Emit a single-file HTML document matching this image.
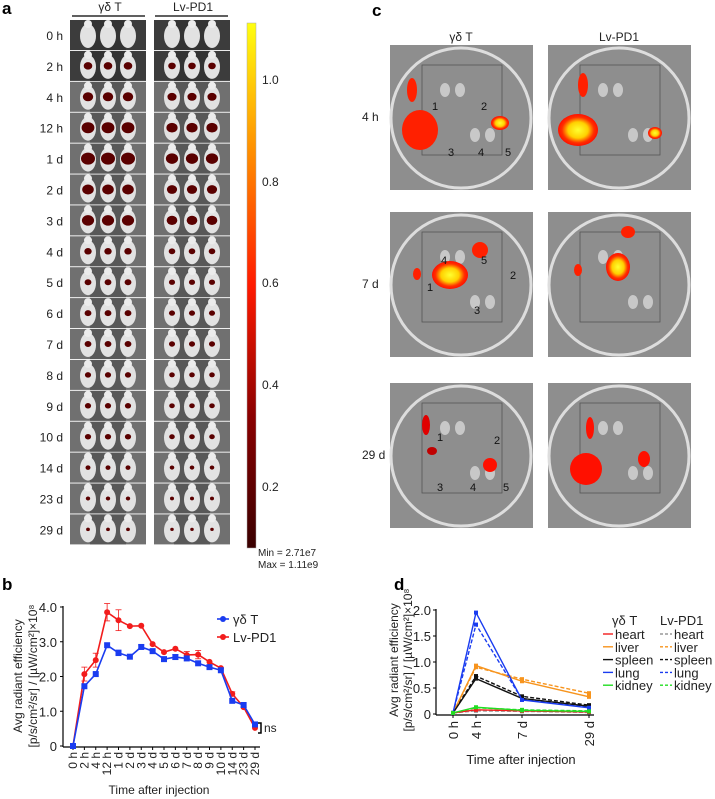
<!DOCTYPE html>
<html><head><meta charset="utf-8">
<style>
body{margin:0;background:#fff;width:715px;height:799px;overflow:hidden;font-family:"Liberation Sans",sans-serif}
svg{position:absolute;left:0;top:0}
text{font-family:"Liberation Sans",sans-serif;fill:#222}
</style></head>
<body>
<svg id="s" width="715" height="799" viewBox="0 0 715 799">
<defs>
<linearGradient id="cb" x1="0" y1="1" x2="0" y2="0">
<stop offset="0" stop-color="#3a0000"/><stop offset="0.25" stop-color="#8a0000"/><stop offset="0.5" stop-color="#ff1a00"/><stop offset="0.75" stop-color="#ff8c00"/><stop offset="1" stop-color="#ffff10"/>
</linearGradient>
<radialGradient id="hot"><stop offset="0" stop-color="#ffff30"/><stop offset="0.5" stop-color="#ffd000"/><stop offset="0.8" stop-color="#ff3000"/><stop offset="1" stop-color="#ff1000"/></radialGradient>
</defs>
<g id="pa"></g>
<g id="pc"></g>
<g id="pb"></g>
<g id="pd"></g>
</svg>
<script>
const NS="http://www.w3.org/2000/svg";
function el(p,t,a,txt){const e=document.createElementNS(NS,t);for(const k in a)e.setAttribute(k,a[k]);if(txt!==undefined)e.textContent=txt;p.appendChild(e);return e;}

// ---------- Panel b data ----------
const bCats=["0 h","2 h","4 h","12 h","1 d","2 d","3 d","4 d","5 d","6 d","7 d","8 d","9 d","10 d","14 d","23 d","29 d"];
const bGd=[0,1.72,2.07,2.9,2.68,2.57,2.85,2.73,2.5,2.56,2.52,2.38,2.27,2.18,1.3,1.18,0.62];
const bLv=[0,2.07,2.47,3.85,3.62,3.45,3.46,2.93,2.7,2.8,2.62,2.63,2.42,2.24,1.5,1.12,0.52];
const bLvErr=[0,0.2,0.2,0.25,0.3,0.04,0.04,0.04,0.04,0.04,0.1,0.12,0.05,0.04,0.06,0.04,0.04];
const bGdErr=[0,0.05,0.04,0.04,0.08,0.04,0.06,0.05,0.06,0.07,0.05,0.04,0.05,0.05,0.05,0.04,0.05];
const bTicks=[0,1,2,3,4];
const bTickLabels=["0","1.0","2.0","3.0","4.0"];

// ---------- Panel d data ----------
const dCats=["0 h","4 h","7 d","29 d"];
const dDays=[0,0.17,7,29];
const dGdHeart=[0.02,0.08,0.06,0.04];
const dGdLiver=[0.02,0.93,0.63,0.33];
const dGdSpleen=[0.02,0.68,0.30,0.15];
const dGdLung=[0.02,1.95,0.27,0.12];
const dGdKidney=[0.02,0.13,0.07,0.05];
const dLvHeart=[0.02,0.06,0.05,0.03];
const dLvLiver=[0.02,0.90,0.67,0.40];
const dLvSpleen=[0.02,0.73,0.34,0.17];
const dLvLung=[0.02,1.72,0.28,0.14];
const dLvKidney=[0.02,0.12,0.08,0.06];
const dTicks=[0,0.5,1,1.5,2];
const dTickLabels=["0","0.5","1.0","1.5","2.0"];

// ---------- Panel a ----------
const pa=document.getElementById('pa');
el(pa,'text',{x:2,y:14,'font-size':17,'font-weight':'bold',style:'fill:#000'},'a');
const aRows=["0 h","2 h","4 h","12 h","1 d","2 d","3 d","4 d","5 d","6 d","7 d","8 d","9 d","10 d","14 d","23 d","29 d"];
const aBlob=[0,0.55,0.7,0.9,1,0.8,0.85,0.45,0.4,0.4,0.4,0.35,0.35,0.35,0.25,0.2,0.15];
[[72,"γδ T"],[155,"Lv-PD1"]].forEach(([x,l],ci)=>{
  el(pa,'text',{x:x+38,y:11,'font-size':12,'text-anchor':'middle'},l);
  el(pa,'line',{x1:x,x2:x+73,y1:16,y2:16,stroke:'#000','stroke-width':1.3});
});
aRows.forEach((r,i)=>{
  const y=20+i*30.9;
  const lt=el(pa,'text',{x:63,y:y+20,'font-size':12,'text-anchor':'end'},r);
  
  
  [70,154].forEach((x,ci)=>{
    const g=el(pa,'g',{});
    
    
    el(g,'rect',{x:x,y:y,width:76,height:30,fill: i<2?'#3c3c3c':'#707070'});
    el(g,'rect',{x:x+20,y:y,width:36,height:30,fill: i<2?'#333':'#585858'});
    for(let m=0;m<3;m++){
      const cx=x+18+m*20;
      el(g,'ellipse',{cx:cx,cy:y+16,rx:8,ry:12,fill:'#e2e2e2'});
      el(g,'circle',{cx:cx,cy:y+4,r:4,fill:'#ececec'});
      const s=aBlob[i]*(ci==0?1:0.85);
      if(s>0) el(g,'ellipse',{cx:cx,cy:y+15,rx:6*s+1,ry:5*s+1,fill:'#5a0000'});
    }
  });
});
el(pa,'rect',{x:247,y:23,width:9,height:525,fill:'url(#cb)',stroke:'#aaa','stroke-width':0.5});
[[1.0,80],[0.8,182],[0.6,283],[0.4,385],[0.2,487]].forEach(([v,y])=>{
  el(pa,'text',{x:262,y:y+4,'font-size':12},v.toFixed(1));
});
el(pa,'text',{x:258,y:556,'font-size':10},"Min = 2.71e7");
el(pa,'text',{x:258,y:568,'font-size':10},"Max = 1.11e9");

// ---------- Panel c ----------
const pc=document.getElementById('pc');
el(pc,'text',{x:372,y:16,'font-size':17,'font-weight':'bold',style:'fill:#000'},'c');
el(pc,'text',{x:461,y:41,'font-size':12,'text-anchor':'middle'},'γδ T');
el(pc,'text',{x:619,y:41,'font-size':12,'text-anchor':'middle'},'Lv-PD1');
const cRows=[["4 h",45],["7 d",212],["29 d",383]];
const cBlobs=[
 [[[22,45,5,12,'#ff2000'],[30,85,18,20,'#ff2000'],[110,78,9,7,'url(#hot)']],[[35,40,5,12,'#ff2000'],[30,85,20,16,'url(#hot)'],[107,88,7,6,'url(#hot)']]],
 [[[27,12,4,6,'#ff2000'],[60,13,18,14,'url(#hot)'],[90,-12,8,8,'#ff2000']],[[30,8,4,6,'#ff2000'],[70,5,12,14,'url(#hot)'],[80,-30,7,6,'#ff2000']]],
 [[[36,42,4,10,'#e00000'],[42,68,5,4,'#c00000'],[100,82,7,7,'#ff1000']],[[42,45,4,11,'#ff1000'],[38,86,16,16,'#ff1000'],[96,76,6,8,'#ff1000']]]
];
cRows.forEach(([l,y],ri)=>{
  el(pc,'text',{x:362,y:y+76,'font-size':12},l);
  [390,548].forEach((x,ci)=>{
    const g=el(pc,'g',{});
    
    
    el(g,'rect',{x:x,y:y,width:143,height:145,fill:'#8e8e8e'});
    el(g,'rect',{x:x+32,y:y+20,width:80,height:90,fill:'none',stroke:'#555','stroke-width':0.8});
    el(g,'circle',{cx:x+71,cy:y+73,r:70,fill:'none',stroke:'#ddd','stroke-width':3});
    for(let k=0;k<4;k++) el(g,'ellipse',{cx:x+55+k*15,cy:y+(k<2?45:90),rx:5,ry:7,fill:'#c8c8c8'});
    cBlobs[ri][ci].forEach(b=>el(g,'ellipse',{cx:x+b[0],cy:y+(ri==1?b[1]+50:b[1]),rx:b[2],ry:b[3],fill:b[4]}));
  });
});
const cNums=[[[1,432,110],[2,481,110],[3,448,156],[4,478,156],[5,505,156]],
 [[1,427,291],[2,510,279],[3,474,314],[4,441,264],[5,481,264]],
 [[1,437,441],[2,494,444],[3,437,491],[4,470,491],[5,503,491]]];
cNums.forEach(r=>r.forEach(([n,x,y])=>el(pc,'text',{x:x,y:y,'font-size':11,style:'fill:#111'},n)));
</script>
<script>
// ---------- Panel b chart ----------
(function(){
const g=document.getElementById('pb');
el(g,'text',{x:2,y:590,'font-size':17,'font-weight':'bold',style:'fill:#000'},'b');
const X0=73,X1=255,Y0=746,Y4=607;
const xs=i=>X0+i*(X1-X0)/(bCats.length-1);
const ys=v=>Y0-(Y0-Y4)*v/4;
el(g,'line',{x1:63,x2:63,y1:606,y2:747,stroke:'#000','stroke-width':1.2});
el(g,'line',{x1:63,x2:260,y1:747,y2:747,stroke:'#000','stroke-width':1.2});
bTicks.forEach((t,i)=>{
  el(g,'line',{x1:60,x2:63,y1:ys(t),y2:ys(t),stroke:'#000'});
  el(g,'text',{x:57,y:ys(t)+5,'font-size':13,'text-anchor':'end'},bTickLabels[i]);
});
bCats.forEach((c,i)=>{
  el(g,'line',{x1:xs(i),x2:xs(i),y1:747,y2:750,stroke:'#000'});
  el(g,'text',{x:xs(i)+4,y:752,'font-size':12,'text-anchor':'end',transform:`rotate(-90 ${xs(i)+4} 752)`},c);
});
el(g,'text',{x:159,y:794,'font-size':12,'text-anchor':'middle'},'Time after injection');
el(g,'text',{x:22,y:676,'font-size':12,'text-anchor':'middle',transform:'rotate(-90 22 676)'},'Avg radiant efficiency');
el(g,'text',{x:37,y:676,'font-size':12,'text-anchor':'middle',transform:'rotate(-90 37 676)'},'[p/s/cm²/sr] / [µW/cm²]×10⁸');
function series(vals,err,col,name,mk){
  const sg=el(g,'g',{});
  
  
  el(sg,'polyline',{points:vals.map((v,i)=>xs(i)+','+ys(v)).join(' '),fill:'none',stroke:col,'stroke-width':1.6});
  vals.forEach((v,i)=>{
    if(err[i]>0.05){el(sg,'line',{x1:xs(i),x2:xs(i),y1:ys(v-err[i]),y2:ys(v+err[i]),stroke:col,'stroke-width':0.8});
      [v-err[i],v+err[i]].forEach(e=>el(sg,'line',{x1:xs(i)-3,x2:xs(i)+3,y1:ys(e),y2:ys(e),stroke:col,'stroke-width':0.8}));}
    if(mk=='s') el(sg,'rect',{x:xs(i)-3,y:ys(v)-3,width:6,height:6,fill:col});
    else el(sg,'circle',{cx:xs(i),cy:ys(v),r:3,fill:col});
  });
}
series(bLv,bLvErr,'#f21c1c','series-lv-pd1','c');
series(bGd,bGdErr,'#1a3cf0','series-gd-t','s');
const lg=[["γδ T",'#1a3cf0',619],["Lv-PD1",'#f21c1c',637]];
lg.forEach(([l,c,y])=>{
  const e=el(g,'g',{});
  
  
  el(e,'line',{x1:217,x2:229,y1:y,y2:y,stroke:c,'stroke-width':1.6});
  el(e,'circle',{cx:223,cy:y,r:3,fill:c});
  el(e,'text',{x:233,y:y+5,'font-size':13},l);
});
el(g,'path',{d:'M258,723 h3 v10 h-3',fill:'none',stroke:'#000','stroke-width':1.5});
el(g,'text',{x:264,y:732,'font-size':12},'ns');
})();

// ---------- Panel d chart ----------
(function(){
const g=document.getElementById('pd');
el(g,'text',{x:394,y:590,'font-size':17,'font-weight':'bold',style:'fill:#000'},'d');
const XL=453,XR=589,Y0=714,Y2=610;
const xs=d=>{ if(d<1) return XL+d*(476-XL)/0.17; if(d<7) return 476+(d-0.17)*(522-476)/6.83; return 522+(d-7)*(XR-522)/22; };
const ys=v=>Y0-(Y0-Y2)*v/2;
el(g,'line',{x1:436,x2:436,y1:609,y2:715,stroke:'#000','stroke-width':1.2});
el(g,'line',{x1:436,x2:594,y1:715,y2:715,stroke:'#000','stroke-width':1.2});
dTicks.forEach((t,i)=>{
  el(g,'line',{x1:433,x2:436,y1:ys(t),y2:ys(t),stroke:'#000'});
  el(g,'text',{x:431,y:ys(t)+5,'font-size':13,'text-anchor':'end'},dTickLabels[i]);
});
dCats.forEach((c,i)=>{
  const x=xs(dDays[i]);
  el(g,'line',{x1:x,x2:x,y1:715,y2:718,stroke:'#000'});
  el(g,'text',{x:x+5,y:721,'font-size':13,'text-anchor':'end',transform:`rotate(-90 ${x+5} 721)`},c);
});
el(g,'text',{x:521,y:764,'font-size':13,'text-anchor':'middle'},'Time after injection');
el(g,'text',{x:398,y:660,'font-size':12,'text-anchor':'middle',transform:'rotate(-90 398 660)'},'Avg radiant efficiency');
el(g,'text',{x:412,y:660,'font-size':12,'text-anchor':'middle',transform:'rotate(-90 412 660)'},'[p/s/cm²/sr] / [µW/cm²]×10⁸');
const solid=[[dGdHeart,'#f21c1c','heart'],[dGdLiver,'#f7941d','liver'],[dGdSpleen,'#111','spleen'],[dGdLung,'#1a3cf0','lung'],[dGdKidney,'#22dd22','kidney']];
const dash=[[dLvHeart,'#999','heart'],[dLvLiver,'#f7941d','liver'],[dLvSpleen,'#111','spleen'],[dLvLung,'#1a3cf0','lung'],[dLvKidney,'#22dd22','kidney']];
function line(vals,c,nm,da){
  const sg=el(g,'g',{});
  
  
  el(sg,'polyline',{points:vals.map((v,i)=>xs(dDays[i])+','+ys(v)).join(' '),fill:'none',stroke:c,'stroke-width':1.4,'stroke-dasharray':da?'4,2':'none'});
  vals.forEach((v,i)=>el(sg,'rect',{x:xs(dDays[i])-2,y:ys(v)-2,width:4,height:4,fill:c}));
}
dash.forEach(s=>line(s[0],s[1],'lv-pd1-'+s[2],true));
solid.forEach(s=>line(s[0],s[1],'gd-t-'+s[2],false));
el(g,'text',{x:612,y:625,'font-size':13},'γδ T');
el(g,'text',{x:660,y:625,'font-size':13},'Lv-PD1');
solid.forEach((s,i)=>{
  const y=634+i*12.8;
  const e=el(g,'g',{});
  
  
  el(e,'line',{x1:603,x2:613,y1:y,y2:y,stroke:s[1],'stroke-width':1.4});
  el(e,'text',{x:615,y:y+5,'font-size':13},s[2]);
  const e2=el(g,'g',{});
  
  
  el(e2,'line',{x1:660,x2:672,y1:y,y2:y,stroke:dash[i][1],'stroke-width':1.4,'stroke-dasharray':'3,2'});
  el(e2,'text',{x:674,y:y+5,'font-size':13},s[2]);
});
})();
</script>
</body></html>
